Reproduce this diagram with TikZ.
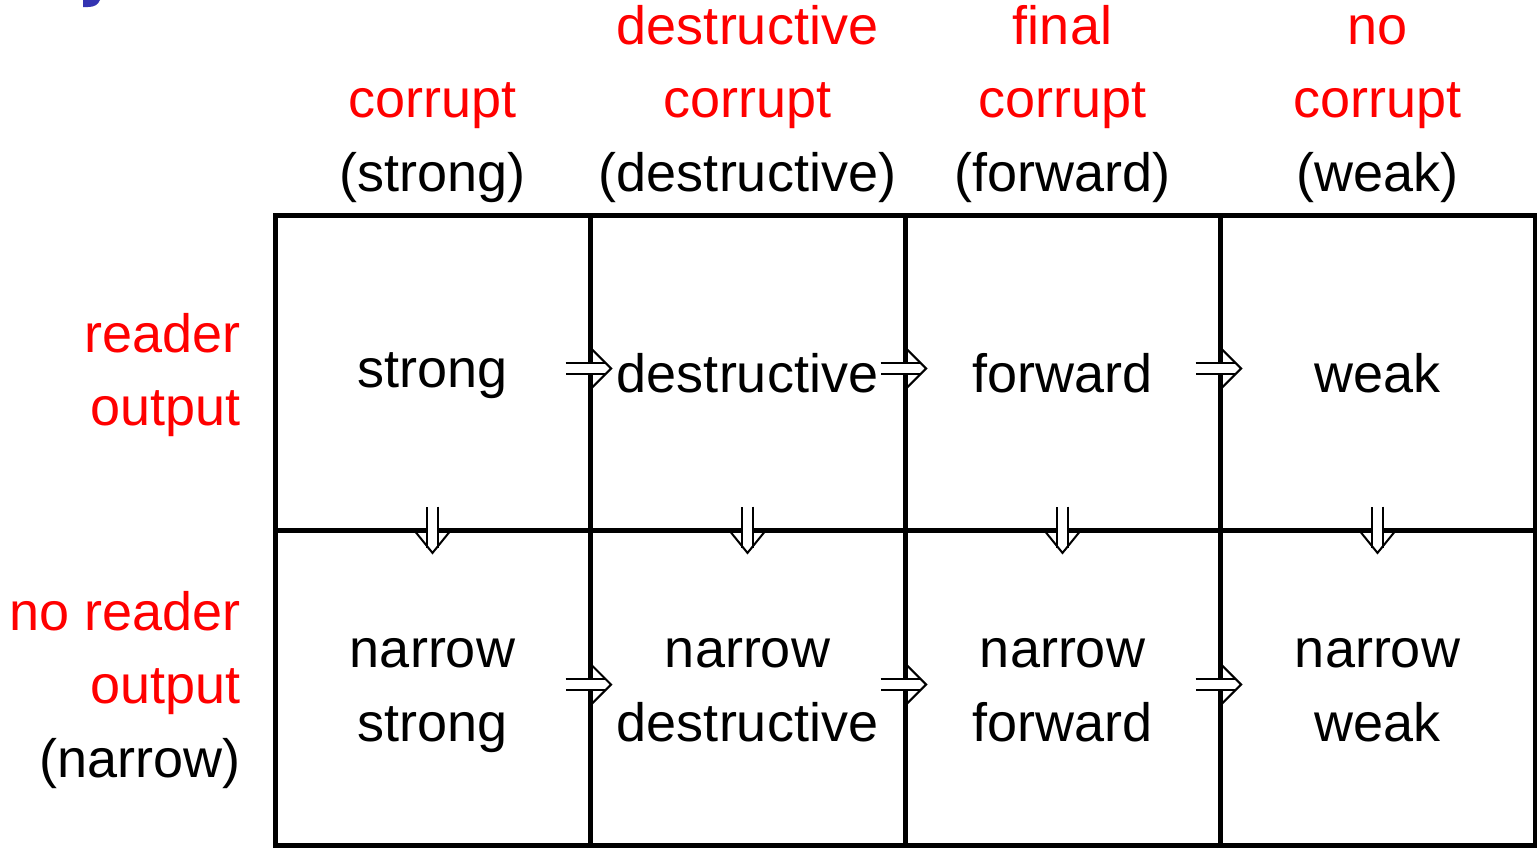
\documentclass[tikz,border=0pt]{standalone}
\usepackage{fontspec}
\setmainfont{Liberation Sans}
\usetikzlibrary{arrows.meta,calc}
\definecolor{hdred}{RGB}{255,0,0}
\definecolor{blobblue}{RGB}{51,51,178}
\begin{document}
\begin{tikzpicture}[x=1pt,y=-1pt,
  every node/.style={font=\fontsize{54}{64}\selectfont, inner sep=0pt},
  cell/.style={draw, line width=5pt, minimum width=315pt, minimum height=315pt},
  txt/.style={anchor=base},
  red/.style={anchor=base, text=hdred},
  lab/.style={anchor=base east, text=hdred},
  labk/.style={anchor=base east},
  dblline/.style={double distance=9pt, line width=2pt, shorten >=7pt},
  rhead/.style={line width=2pt, -{Straight Barb[length=20pt, width=40pt]}},
  dhead/.style={line width=2pt, -{Straight Barb[length=21pt, width=34pt]}}]
\useasboundingbox (0,0) rectangle (1537,849);
% partial blue glyph at top-left
\fill[blobblue] (83,0) -- (100,0) .. controls (98,5) and (94,7) .. (88,7) -- (83,7) -- cycle;
% grid cells
\node[cell] (c11) at (432.5,372.5) {};
\node[cell] (c12) at (747.5,372.5) {};
\node[cell] (c13) at (1062.5,372.5) {};
\node[cell] (c14) at (1377.5,372.5) {};
\node[cell] (c21) at (432.5,687.5) {};
\node[cell] (c22) at (747.5,687.5) {};
\node[cell] (c23) at (1062.5,687.5) {};
\node[cell] (c24) at (1377.5,687.5) {};
% column headers
\node[red] (h1b) at (432.5,117.5) {corrupt};
\node[txt] (h1c) at (432.5,191) {(strong)};
\node[red] (h2a) at (747.5,44) {destructive};
\node[red] (h2b) at (747.5,117.5) {corrupt};
\node[txt] (h2c) at (747.5,191) {(destructive)};
\node[red] (h3a) at (1062.5,44) {final};
\node[red] (h3b) at (1062.5,117.5) {corrupt};
\node[txt] (h3c) at (1062.5,191) {(forward)};
\node[red] (h4a) at (1377.5,44) {no};
\node[red] (h4b) at (1377.5,117.5) {corrupt};
\node[txt] (h4c) at (1377.5,191) {(weak)};
% row labels
\node[lab] (r1a) at (241,352) {reader};
\node[lab] (r1b) at (241,425) {output};
\node[lab] (r2a) at (241,630) {no reader};
\node[lab] (r2b) at (241,703) {output};
\node[labk] (r2c) at (241,777) {(narrow)};
% cell texts
\node[txt] (t11) at (432.5,387) {strong};
\node[txt] (t12) at (747.5,392) {destructive};
\node[txt] (t13) at (1062.5,392) {forward};
\node[txt] (t14) at (1377.5,392) {weak};
\node[txt] (t21a) at (432.5,667) {narrow};
\node[txt] (t21b) at (432.5,741) {strong};
\node[txt] (t22a) at (747.5,667) {narrow};
\node[txt] (t22b) at (747.5,741) {destructive};
\node[txt] (t23a) at (1062.5,667) {narrow};
\node[txt] (t23b) at (1062.5,741) {forward};
\node[txt] (t24a) at (1377.5,667) {narrow};
\node[txt] (t24b) at (1377.5,741) {weak};
% right implication arrows
\foreach \a/\b/\dy in {c11/c12/-4,c12/c13/-4,c13/c14/-4,c21/c22/-3,c22/c23/-3,c23/c24/-3}{
  \draw[dblline] ($(\a.east)+(-27,\dy)$) -- ($(\b.west)+(25,\dy)$);
  \draw[rhead] ($(\b.west)+(22,\dy)$) -- ($(\b.west)+(25,\dy)$);
}
% down implication arrows
\foreach \a/\b in {c11/c21,c12/c22,c13/c23,c14/c24}{
  \draw[dblline] ($(\a.south)+(0,-26)$) -- ($(\b.north)+(0,27)$);
  \draw[dhead] ($(\b.north)+(0,24)$) -- ($(\b.north)+(0,27)$);
}
\end{tikzpicture}
\end{document}
